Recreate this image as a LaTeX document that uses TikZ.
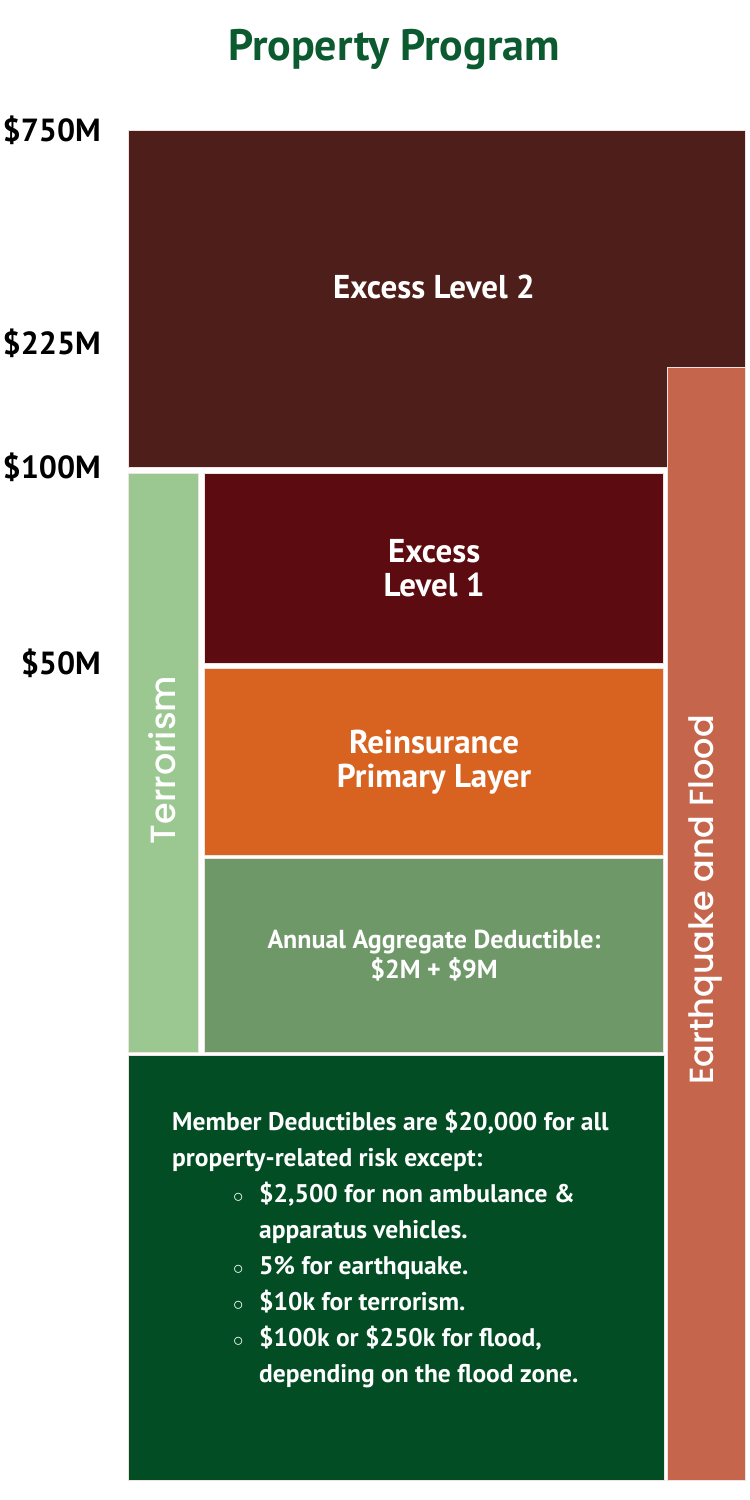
\documentclass[tikz,border=0pt]{standalone}
\usepackage{fontspec}
\setmainfont{PT Sans}
\newfontfamily\sidefont{Poppins Medium}
\definecolor{titlegreen}{HTML}{0B5A30}
\definecolor{exctwo}{HTML}{4E1F1A}
\definecolor{excone}{HTML}{5C0B10}
\definecolor{reins}{HTML}{D86220}
\definecolor{aggded}{HTML}{6E9868}
\definecolor{terror}{HTML}{9BC790}
\definecolor{quake}{HTML}{C4654C}
\definecolor{member}{HTML}{024D24}
\definecolor{edgecol}{HTML}{EFE2E0}
\newcommand\bul{\hspace*{61pt}\makebox[26pt][l]{\fontsize{20}{20}\selectfont$\circ$}}
\newcommand\cont{\hspace*{87pt}}
\begin{document}
\begin{tikzpicture}[x=1pt,y=-1pt,
  layer/.style={rectangle, anchor=north west, inner sep=0pt, draw=edgecol, line width=1.2pt, text=white, align=center, font=\bfseries\fontsize{33}{34}\selectfont},
  sidetext/.style={text=white, rotate=90, font=\sidefont\fontsize{33.5}{34}\selectfont},
  amount/.style={anchor=east, inner sep=0pt, font=\bfseries\fontsize{32}{34}\selectfont}]
\useasboundingbox (0,0) rectangle (750,1500);
\node[font=\bfseries\fontsize{44}{48}\selectfont, text=titlegreen] (title) at (394,50){Property Program};
\node[amount] (m750) at (101,130){\$750M};
\node[amount] (m225) at (101,343){\$225M};
\node[amount] (m100) at (101,467){\$100M};
\node[amount] (m50) at (101,663){\$50M};
\node[layer, fill=exctwo, minimum width=617pt, minimum height=337pt] (exc2) at (128,130){};
\node[text=white, font=\bfseries\fontsize{33}{34}\selectfont] (exc2txt) at (434,287){Excess Level 2};
\node[layer, fill=quake, minimum width=78pt, minimum height=1113pt] (eqf) at (667,367){};
\node[sidetext] (eqftxt) at (705,900){Earthquake and Flood};
\node[layer, fill=terror, minimum width=70pt, minimum height=579pt] (terr) at (128,473){};
\node[sidetext, font=\sidefont\fontsize{35}{38}\selectfont] (terrtxt) at (162,760){Terrorism};
\node[layer, fill=excone, minimum width=459pt, minimum height=190pt] (exc1) at (204,473){Excess\\Level 1};
\node[layer, fill=reins, minimum width=459pt, minimum height=187pt] (rein) at (204,668){Reinsurance\\Primary Layer};
\node[layer, fill=aggded, minimum width=459pt, minimum height=194pt, font=\bfseries\fontsize{26}{30}\selectfont] (aad) at (204,858){Annual Aggregate Deductible:\\\$2M + \$9M};
\node[layer, fill=member, minimum width=536pt, minimum height=425pt] (memb) at (128,1055){};
\node[anchor=north west, inner sep=0pt, text=white, align=left, font=\bfseries\fontsize{25.5}{36}\selectfont] (membtxt) at (172,1110){Member Deductibles are \$20,000 for all\\
property-related risk except:\\
\bul\$2,500 for non ambulance \&\\
\cont apparatus vehicles.\\
\bul 5\% for earthquake.\\
\bul\$10k for terrorism.\\
\bul\$100k or \$250k for flood,\\
\cont depending on the flood zone.};
\end{tikzpicture}
\end{document}
